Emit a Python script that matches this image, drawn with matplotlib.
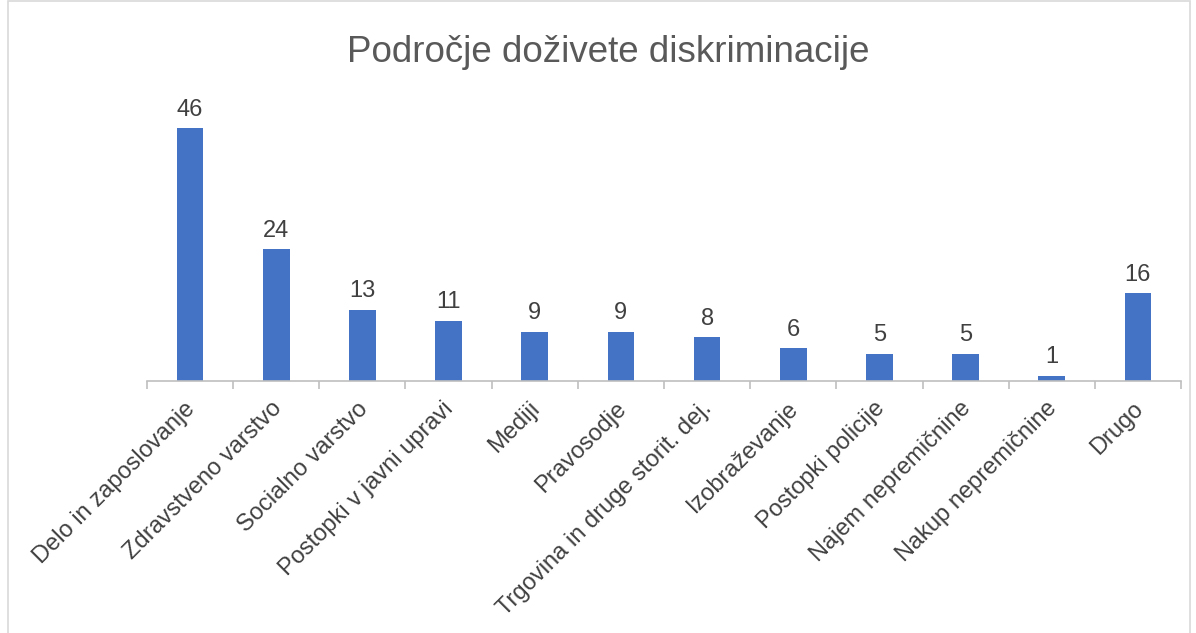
import matplotlib.pyplot as plt
from matplotlib.patches import Rectangle
from matplotlib.transforms import ScaledTranslation
import numpy as np

plt.rcParams['font.family'] = ['Liberation Sans', 'DejaVu Sans']

kategorije = ['Delo in zaposlovanje', 'Zdravstveno varstvo', 'Socialno varstvo',
              'Postopki v javni upravi', 'Mediji', 'Pravosodje',
              'Trgovina in druge storit. dej.', 'Izobraževanje', 'Postopki policije',
              'Najem nepremičnine', 'Nakup nepremičnine', 'Drugo']
vrednosti = [46, 24, 13, 11, 9, 9, 8, 6, 5, 5, 1, 16]

W, H = 1196, 633
fig = plt.figure(figsize=(W / 100, H / 100), dpi=100)

# okvir okoli grafa
fig.patches.append(Rectangle((8 / W, -0.01), (1190 - 8) / W, 1.0 - 1 / H + 0.01,
                             transform=fig.transFigure, fill=False,
                             edgecolor='#D9D9D9', linewidth=1.2))

ax = fig.add_axes([147 / W, (H - 381) / H, (1181 - 147) / W, (381 - 106) / H])
x = np.arange(len(kategorije))
ax.bar(x, vrednosti, width=0.31, color='#4472C4', zorder=2)

for xi, v in zip(x, vrednosti):
    ax.text(xi, v + 1.3, str(v), ha='center', va='bottom', fontsize=17, color='#404040')

ax.set_xlim(-0.5, len(kategorije) - 0.5)
ax.set_ylim(0, 50)
ax.set_yticks([])
for s in ['top', 'right', 'left']:
    ax.spines[s].set_visible(False)
ax.spines['bottom'].set_color('#BFBFBF')
ax.spines['bottom'].set_linewidth(1.2)

ax.set_xticks(x)
ax.set_xticklabels(kategorije, rotation=45, ha='right', rotation_mode='anchor',
                   fontsize=17, color='#404040')
ax.tick_params(axis='x', length=0, pad=12)
premik = ScaledTranslation(-6 / 100, 0, fig.dpi_scale_trans)
for lbl in ax.get_xticklabels():
    lbl.set_transform(lbl.get_transform() + premik)
ax.set_xticks(np.arange(len(kategorije) + 1) - 0.5, minor=True)
ax.tick_params(axis='x', which='minor', length=6, color='#BFBFBF', width=1.2)

fig.text(608 / W, 1 - 52 / H, 'Področje doživete diskriminacije', ha='center', va='center',
         fontsize=26.5, color='#595959')

fig.savefig('out.png', dpi=100, facecolor='white')
